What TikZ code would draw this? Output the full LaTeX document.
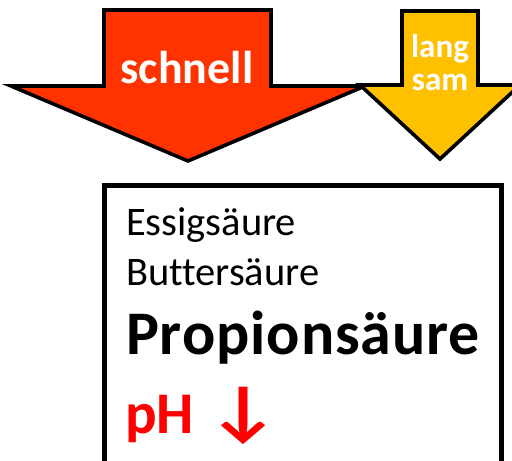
\documentclass[tikz,border=0pt]{standalone}
\usepackage{graphicx}
\usepackage{fontspec}
\setmainfont[Ligatures=CommonOff]{Carlito}
\definecolor{fastred}{HTML}{FF3300}
\definecolor{slowyellow}{HTML}{FFC000}
\definecolor{phred}{HTML}{FF0000}
\begin{document}
\begin{tikzpicture}[x=1pt,y=-1pt,
  bigarrow/.style={draw=black,line width=3.6pt,line join=miter,miter limit=10},
  label/.style={inner sep=0pt,outer sep=0pt,anchor=base west},
  arrowtext/.style={inner sep=0pt,outer sep=0pt,anchor=base,text=white,font=\bfseries}]
\useasboundingbox (0,0) rectangle (512,461);
\clip (0,0) rectangle (512,461);

% fast pathway: wide red arrow
\draw[bigarrow,fill=fastred] (104,10) -- (271,10) -- (271,86) -- (365,86)
  -- (188,161) -- (11,86) -- (104,86) -- cycle;
% slow pathway: narrow yellow arrow
\draw[bigarrow,fill=slowyellow] (402,11) -- (478,11) -- (478,85) -- (520,85)
  -- (440,159) -- (360,85) -- (402,85) -- cycle;

\node[arrowtext,font=\bfseries\fontsize{46}{46}\selectfont] (fast) at (187,83) {schnell};
\node[arrowtext,font=\bfseries\fontsize{33}{33}\selectfont] (slow1) at (440,57) {lang};
\node[arrowtext,font=\bfseries\fontsize{33}{33}\selectfont] (slow2) at (440,90) {sam};

% product box
\draw[line width=5pt] (104.5,470) -- (104.5,185.5) -- (501.5,185.5) -- (501.5,470);

\node[label,font=\fontsize{40.5}{40.5}\selectfont] (acetic) at (126,235) {Essigsäure};
\node[label,font=\fontsize{40.5}{40.5}\selectfont] (butyric) at (126,285) {Buttersäure};
\node[label,font=\bfseries\fontsize{62}{62}\selectfont\addfontfeatures{LetterSpace=1.5}] (propionic) at (126,354) {Propionsäure};
\node[label,font=\bfseries\fontsize{59}{59}\selectfont,text=phred] (ph) at (125,433) {pH \scalebox{1.35}[1.15]{↓}};
\end{tikzpicture}
\end{document}
